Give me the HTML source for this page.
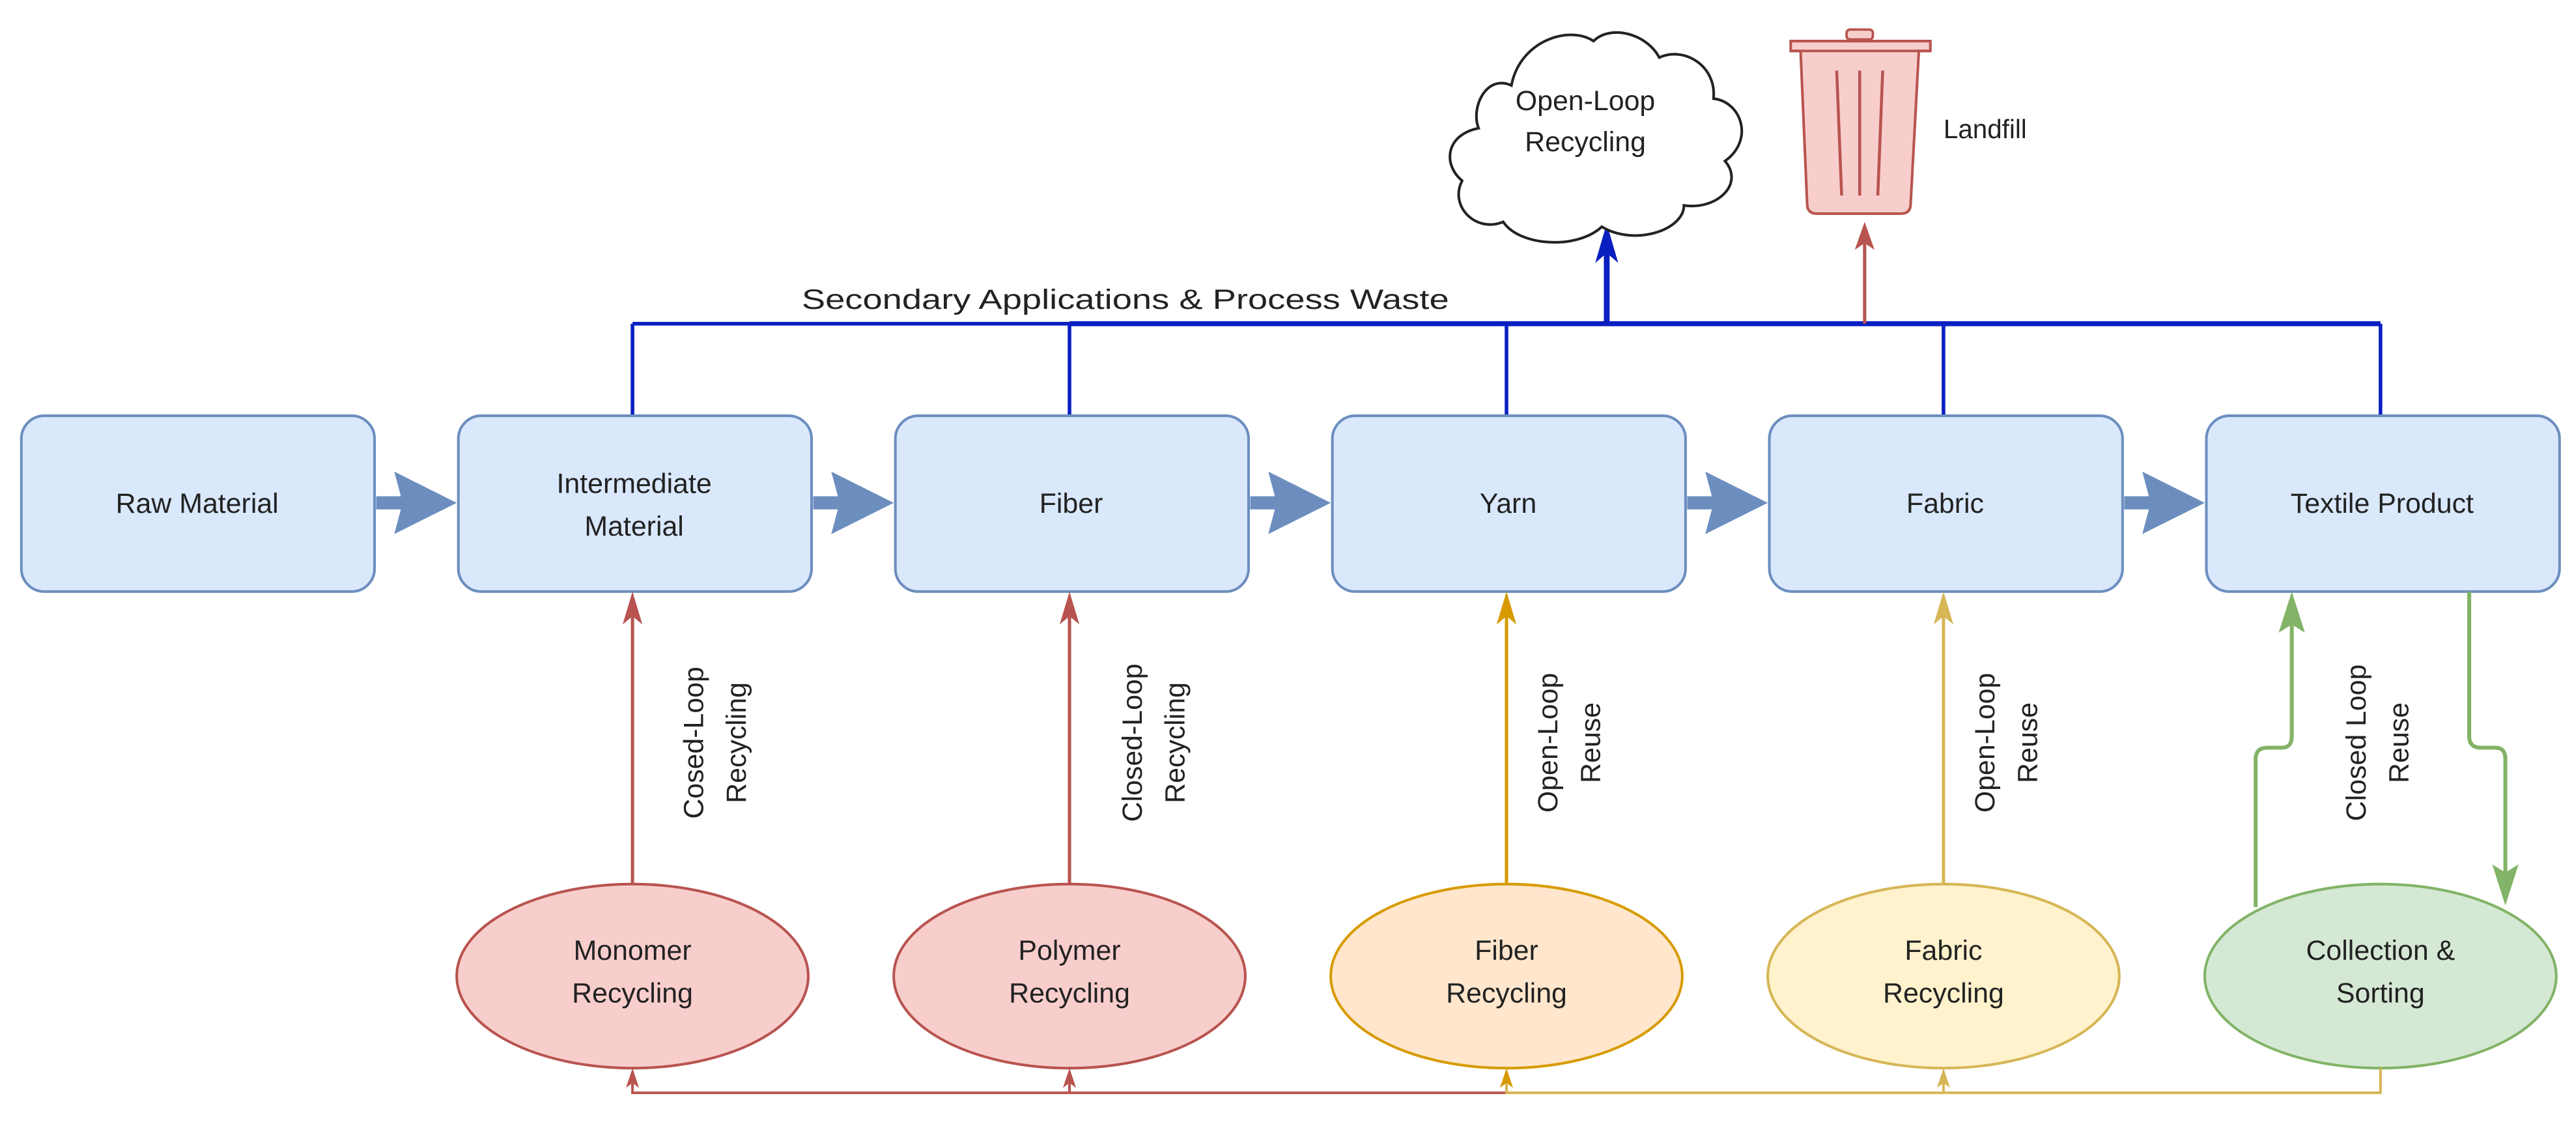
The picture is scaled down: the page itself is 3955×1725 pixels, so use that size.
<!DOCTYPE html>
<html><head><meta charset="utf-8"><style>html,body{margin:0;padding:0;background:#fff}svg{display:block}</style></head>
<body>
<svg width="3955" height="1725" viewBox="0 0 1568 684" preserveAspectRatio="none" xmlns="http://www.w3.org/2000/svg" font-family="Liberation Sans, Arial, sans-serif">
<defs>
<marker id="ar" markerWidth="10" markerHeight="10" refX="5" refY="9" orient="auto" markerUnits="userSpaceOnUse" viewBox="0 0 10 10"><path d="M0,10 L5,0 L10,10 L5,7 Z" fill="#b85450"/></marker>
</defs>
<rect width="1568" height="684" fill="#fff"/>

<!-- blue bus -->
<g stroke="#0a1fc0" fill="none">
<line x1="385" y1="197" x2="651" y2="197" stroke-width="2.2"/>
<line x1="651" y1="197" x2="1449" y2="197" stroke-width="3"/>
<line x1="385" y1="197" x2="385" y2="253" stroke-width="2.2"/>
<line x1="651" y1="197" x2="651" y2="253" stroke-width="2.2"/>
<line x1="917" y1="197" x2="917" y2="253" stroke-width="2.2"/>
<line x1="1183" y1="197" x2="1183" y2="253" stroke-width="2.2"/>
<line x1="1449" y1="197" x2="1449" y2="253" stroke-width="2.2"/>
<line x1="978" y1="197" x2="978" y2="150" stroke-width="3.5"/>
</g>
<path d="M978,136 L985,160 L978,154 L971,160 Z" fill="#0a1fc0"/>
<line x1="1135" y1="197" x2="1135" y2="148" stroke="#b85450" stroke-width="2"/>
<path d="M1135,135 L1141,152 L1135,148 L1129,152 Z" fill="#b85450"/>
<text x="488" y="188" font-size="17" fill="#222" textLength="394" lengthAdjust="spacingAndGlyphs">Secondary Applications &amp; Process Waste</text>

<!-- cloud -->
<path d="M920,52 C905,45 895,65 900,78 C880,82 878,100 890,110 C882,125 898,142 915,135 C925,150 960,152 975,138 C995,150 1025,140 1025,125 C1045,128 1062,112 1050,98 C1068,85 1060,62 1043,60 C1045,40 1025,28 1010,35 C1002,20 980,15 970,25 C955,15 925,25 920,52 Z" fill="#fff" stroke="#222" stroke-width="1.6"/>
<text x="965" y="67" font-size="17" text-anchor="middle" fill="#222">Open-Loop</text>
<text x="965" y="92" font-size="17" text-anchor="middle" fill="#222">Recycling</text>

<!-- trash -->
<rect x="1124" y="18" width="16" height="6" rx="2" fill="#f8cecc" stroke="#b85450" stroke-width="1.5"/>
<path d="M1090,25 L1175,25 L1175,31 L1168,31 L1163,124 Q1163,130 1157,130 L1106,130 Q1100,130 1100,124 L1096,31 L1090,31 Z" fill="#f8cecc" stroke="#b85450" stroke-width="1.6"/>
<line x1="1090" y1="31" x2="1175" y2="31" stroke="#b85450" stroke-width="1.5"/>
<g stroke="#b85450" stroke-width="1.8"><line x1="1118" y1="43" x2="1121" y2="119"/><line x1="1132" y1="43" x2="1132" y2="119"/><line x1="1146" y1="43" x2="1143" y2="119"/></g>
<text x="1183" y="84" font-size="16" fill="#222">Landfill</text>

<!-- boxes -->
<g fill="#dae8fc" stroke="#6c8ebf" stroke-width="1.6">
<rect x="13" y="253" width="215" height="107" rx="14"/>
<rect x="279" y="253" width="215" height="107" rx="14"/>
<rect x="545" y="253" width="215" height="107" rx="14"/>
<rect x="811" y="253" width="215" height="107" rx="14"/>
<rect x="1077" y="253" width="215" height="107" rx="14"/>
<rect x="1343" y="253" width="215" height="107" rx="14"/>
</g>
<!-- fat arrows -->
<g fill="#6c8ebf">
<path d="M229,302 L244,302 L240,287 L278,306 L240,325 L244,310 L229,310 Z"/>
<path d="M495,302 L510,302 L506,287 L544,306 L506,325 L510,310 L495,310 Z"/>
<path d="M761,302 L776,302 L772,287 L810,306 L772,325 L776,310 L761,310 Z"/>
<path d="M1027,302 L1042,302 L1038,287 L1076,306 L1038,325 L1042,310 L1027,310 Z"/>
<path d="M1293,302 L1308,302 L1304,287 L1342,306 L1304,325 L1308,310 L1293,310 Z"/>
</g>
<g font-size="17" text-anchor="middle" fill="#222">
<text x="120" y="312">Raw Material</text>
<text x="386" y="300">Intermediate</text>
<text x="386" y="326">Material</text>
<text x="652" y="312">Fiber</text>
<text x="918" y="312">Yarn</text>
<text x="1184" y="312">Fabric</text>
<text x="1450" y="312">Textile Product</text>
</g>

<!-- vertical arrows -->
<line x1="385" y1="538" x2="385" y2="368" stroke="#b85450" stroke-width="2"/>
<path d="M385,360 L391,380 L385,375 L379,380 Z" fill="#b85450"/>
<line x1="651" y1="538" x2="651" y2="368" stroke="#b85450" stroke-width="2"/>
<path d="M651,360 L657,380 L651,375 L645,380 Z" fill="#b85450"/>
<line x1="917" y1="538" x2="917" y2="368" stroke="#d79b00" stroke-width="2"/>
<path d="M917,360 L923,380 L917,375 L911,380 Z" fill="#d79b00"/>
<line x1="1183" y1="538" x2="1183" y2="368" stroke="#d6b656" stroke-width="2"/>
<path d="M1183,360 L1189,380 L1183,375 L1177,380 Z" fill="#d6b656"/>
<!-- green -->
<path d="M1373,552 L1373,462 Q1373,455 1380,455 L1389,455 Q1395,455 1395,448 L1395,372" fill="none" stroke="#82b366" stroke-width="2.4"/>
<path d="M1395,360 L1403,385 L1395,380 L1387,385 Z" fill="#82b366"/>
<path d="M1503,360 L1503,448 Q1503,455 1510,455 L1519,455 Q1525,455 1525,462 L1525,538" fill="none" stroke="#82b366" stroke-width="2.4"/>
<path d="M1525,551 L1533,526 L1525,531 L1517,526 Z" fill="#82b366"/>

<!-- rotated labels -->
<g font-size="17" fill="#222" text-anchor="middle">
<text transform="translate(428,452) rotate(-90)">Cosed-Loop</text>
<text transform="translate(454,452) rotate(-90)">Recycling</text>
<text transform="translate(695,452) rotate(-90)">Closed-Loop</text>
<text transform="translate(721,452) rotate(-90)">Recycling</text>
<text transform="translate(948,452) rotate(-90)">Open-Loop</text>
<text transform="translate(974,452) rotate(-90)">Reuse</text>
<text transform="translate(1214,452) rotate(-90)">Open-Loop</text>
<text transform="translate(1240,452) rotate(-90)">Reuse</text>
<text transform="translate(1440,452) rotate(-90)">Closed Loop</text>
<text transform="translate(1466,452) rotate(-90)">Reuse</text>
</g>

<!-- ellipses -->
<ellipse cx="385" cy="594" rx="107" ry="56" fill="#f8cecc" stroke="#b85450" stroke-width="1.6"/>
<ellipse cx="651" cy="594" rx="107" ry="56" fill="#f8cecc" stroke="#b85450" stroke-width="1.6"/>
<ellipse cx="917" cy="594" rx="107" ry="56" fill="#ffe6cc" stroke="#d79b00" stroke-width="1.6"/>
<ellipse cx="1183" cy="594" rx="107" ry="56" fill="#fff2cc" stroke="#d6b656" stroke-width="1.6"/>
<ellipse cx="1449" cy="594" rx="107" ry="56" fill="#d5e8d4" stroke="#82b366" stroke-width="1.6"/>
<g font-size="17" text-anchor="middle" fill="#222">
<text x="385" y="584">Monomer</text><text x="385" y="610">Recycling</text>
<text x="651" y="584">Polymer</text><text x="651" y="610">Recycling</text>
<text x="917" y="584">Fiber</text><text x="917" y="610">Recycling</text>
<text x="1183" y="584">Fabric</text><text x="1183" y="610">Recycling</text>
<text x="1449" y="584">Collection &amp;</text><text x="1449" y="610">Sorting</text>
</g>

<!-- bottom lines -->
<g fill="none" stroke-width="1.6">
<polyline points="385,656 385,665 917,665" stroke="#b85450"/>
<line x1="651" y1="656" x2="651" y2="665" stroke="#b85450"/>
<polyline points="917,656 917,665 1449,665 1449,650" stroke="#d6b656"/>
<line x1="1183" y1="656" x2="1183" y2="665" stroke="#d6b656"/>
</g>
<path d="M385,650 L389,662 L385,659 L381,662 Z" fill="#b85450"/>
<path d="M651,650 L655,662 L651,659 L647,662 Z" fill="#b85450"/>
<path d="M917,650 L921,662 L917,659 L913,662 Z" fill="#d79b00"/>
<path d="M1183,650 L1187,662 L1183,659 L1179,662 Z" fill="#d6b656"/>
</svg>
</body></html>
